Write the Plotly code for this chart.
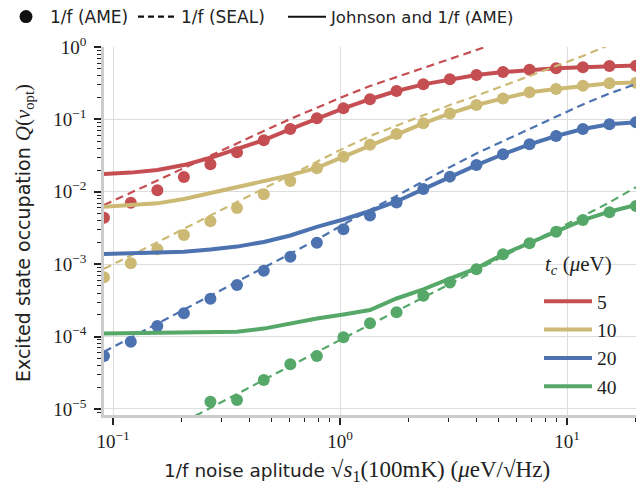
import plotly.graph_objects as go

# ---- data ----
x_noise = [0.0912, 0.1197, 0.1567, 0.2051, 0.2685, 0.3516, 0.4613, 0.6039, 0.7907, 1.035,
           1.355, 1.774, 2.328, 3.048, 3.990, 5.224, 6.839, 8.954, 11.75, 15.38, 20.14]

tc_labels = ["5", "10", "20", "40"]
colors = ["#C44E52", "#CCB974", "#4C72B0", "#55A868"]

# 1/f (AME) dots
ame_5 = [0.00439, 0.00708, 0.0105, 0.0160, 0.0240, 0.0352, 0.0514, 0.0736, 0.1035, 0.142,
         0.190, 0.247, 0.305, 0.358, 0.410, 0.452, 0.486, 0.507, 0.525, 0.547, 0.550]
ame_10 = [6.59e-4, 1.03e-3, 1.61e-3, 2.53e-3, 3.93e-3, 5.97e-3, 9.23e-3, 0.0141, 0.0211, 0.0305,
          0.0448, 0.0628, 0.0883, 0.121, 0.158, 0.195, 0.237, 0.263, 0.292, 0.316, 0.321]
ame_20 = [5.40e-5, 8.51e-5, 1.40e-4, 2.10e-4, 3.33e-4, 5.16e-4, 8.13e-4, 1.27e-3, 1.98e-3, 3.03e-3,
          4.71e-3, 7.11e-3, 0.0109, 0.0162, 0.0234, 0.0330, 0.0453, 0.0590, 0.0736, 0.0855, 0.0912]
ame_40 = [None, None, None, None, 1.26e-5, 1.33e-5, 2.52e-5, 4.14e-5, 5.40e-5, 9.77e-5,
          1.53e-4, 2.17e-4, 3.67e-4, 5.57e-4, 8.51e-4, 1.37e-3, 1.95e-3, 2.81e-3, 4.07e-3, 5.21e-3, 6.37e-3]

# 1/f (SEAL) dashed
seal_5 = [6.58e-3, 9.62e-3, 0.0143, 0.0213, 0.0317, 0.0472, 0.0692, 0.1014, 0.146, 0.207,
          0.289, 0.385, 0.513, 0.682, 0.910, 1.21, None, None, None, None, None]
seal_10 = [8.63e-4, 1.31e-3, 2.01e-3, 3.08e-3, 4.72e-3, 7.23e-3, 0.0111, 0.0169, 0.0259, 0.0398,
           0.0590, 0.0824, 0.115, 0.158, 0.212, 0.294, 0.398, 0.547, 0.752, 1.07, None]
seal_20 = [6.18e-5, 9.66e-5, 1.51e-4, 2.36e-4, 3.67e-4, 5.73e-4, 8.95e-4, 1.40e-3, 2.18e-3, 3.55e-3,
           5.62e-3, 8.91e-3, 0.0138, 0.0219, 0.0339, 0.0501, 0.0748, 0.111, 0.161, 0.228, 0.308]
seal_40 = [None, None, None, 6.64e-6, 1.04e-5, 1.61e-5, 2.52e-5, 3.93e-5, 6.12e-5, 9.48e-5,
           1.45e-4, 2.21e-4, 3.47e-4, 5.33e-4, 8.32e-4, 1.28e-3, 1.96e-3, 3.01e-3, 4.63e-3, 7.11e-3, 0.0116]

# Johnson and 1/f (AME) solid
jn_5 = [0.0176, 0.0184, 0.0200, 0.0234, 0.0295, 0.0389, 0.0519, 0.0733, 0.1035, 0.142,
        0.190, 0.247, 0.305, 0.358, 0.410, 0.452, 0.486, 0.507, 0.525, 0.547, 0.556]
jn_10 = [6.22e-3, 6.46e-3, 6.92e-3, 7.94e-3, 9.55e-3, 0.0115, 0.0141, 0.0170, 0.0214, 0.0305,
         0.0448, 0.0628, 0.0883, 0.121, 0.158, 0.195, 0.237, 0.263, 0.292, 0.316, 0.323]
jn_20 = [1.38e-3, 1.41e-3, 1.43e-3, 1.49e-3, 1.60e-3, 1.75e-3, 2.03e-3, 2.49e-3, 3.27e-3, 4.14e-3,
         5.43e-3, 7.35e-3, 0.0109, 0.0162, 0.0234, 0.0330, 0.0453, 0.0590, 0.0736, 0.0855, 0.0915]
jn_40 = [1.10e-4, 1.11e-4, 1.11e-4, 1.12e-4, 1.14e-4, 1.17e-4, 1.29e-4, 1.52e-4, 1.78e-4, 2.02e-4,
         2.33e-4, 3.36e-4, 4.48e-4, 6.34e-4, 8.77e-4, 1.37e-3, 1.96e-3, 2.88e-3, 4.07e-3, 5.31e-3, 6.58e-3]

x_tickvals = [0.1, 1, 10]
x_ticktext = ["10<sup>−1</sup>", "10<sup>0</sup>", "10<sup>1</sup>"]
y_tickvals = [1e-5, 1e-4, 1e-3, 1e-2, 1e-1, 1]
y_ticktext = ["10<sup>−5</sup>", "10<sup>−4</sup>", "10<sup>−3</sup>", "10<sup>−2</sup>", "10<sup>−1</sup>", "10<sup>0</sup>"]

x_title = ("1/f noise aplitude <span style='font-family:Liberation Serif;font-size:23px'>"
           "√<i>s</i><sub>1</sub>(100mK) (<i>μ</i>eV/√Hz)</span>")
y_title = ("Excited state occupation <span style='font-family:Liberation Serif;font-size:21px'>"
           "<i>Q</i>(<i>v</i><sub>opt</sub>)</span>")
tc_title = "<i>t<sub>c</sub></i> (<i>μ</i>eV)"

ame = [ame_5, ame_10, ame_20, ame_40]
seal = [seal_5, seal_10, seal_20, seal_40]
jn = [jn_5, jn_10, jn_20, jn_40]

SANS = "DejaVu Sans"
SERIF = "Liberation Serif"
INK = "#222222"

fig = go.Figure()
for i in range(4):
    c = colors[i]
    fig.add_trace(go.Scatter(x=x_noise, y=ame[i], mode="markers",
                             marker=dict(color=c, size=12, line=dict(width=0)),
                             showlegend=False))
    fig.add_trace(go.Scatter(x=x_noise, y=seal[i], mode="lines",
                             line=dict(color=c, width=2.2, dash="8px,5px"),
                             showlegend=False))
    fig.add_trace(go.Scatter(x=x_noise, y=jn[i], mode="lines",
                             line=dict(color=c, width=4),
                             name="<span style='font-family:Liberation Serif'>" + tc_labels[i] + "</span>",
                             legend="legend2"))

# style legend entries (black), one legend each for exact placement
fig.add_trace(go.Scatter(x=[None], y=[None], mode="markers", name="1/f (AME)",
                         marker=dict(color="#111111", size=13), legend="legend"))
fig.add_trace(go.Scatter(x=[None], y=[None], mode="lines", name="1/f (SEAL)",
                         line=dict(color="#111111", width=2.2, dash="6px,4px"), legend="legend3"))
fig.add_trace(go.Scatter(x=[None], y=[None], mode="lines", name="Johnson and 1/f (AME)",
                         line=dict(color="#111111", width=2.2), legend="legend4"))

axis_common = dict(
    showline=True, linecolor="#cccccc", linewidth=2.5,
    showgrid=True, gridcolor="#dddddd", gridwidth=1.3,
    ticks="outside", ticklen=7, tickwidth=1.6, tickcolor=INK,
    zeroline=False, automargin=False,
    tickfont=dict(family=SERIF, size=19, color=INK),
)

fig.update_xaxes(type="log", range=[-1.040, 1.304],
                 tickvals=x_tickvals, ticktext=x_ticktext,
                 minor=dict(ticks="outside", ticklen=4, tickwidth=1.4, tickcolor=INK,
                            dtick="D1", showgrid=False),
                 **axis_common)
fig.update_yaxes(type="log", range=[-5.083, 0],
                 tickvals=y_tickvals, ticktext=y_ticktext, ticklabelstandoff=4,
                 minor=dict(ticks="outside", ticklen=4, tickwidth=1.4, tickcolor=INK,
                            dtick="D1", showgrid=False),
                 **axis_common)

# axis titles and legend-2 title as annotations for exact placement
fig.add_annotation(text=x_title, xref="paper", yref="paper",
                   x=(357 - 104) / 532, y=(415 - 471) / 368,
                   xanchor="center", yanchor="middle", showarrow=False,
                   font=dict(family=SANS, size=18.5, color=INK))
fig.add_annotation(text=y_title, xref="paper", yref="paper",
                   x=(24 - 104) / 532, y=(415 - 233) / 368, textangle=-90,
                   xanchor="center", yanchor="middle", showarrow=False,
                   font=dict(family=SANS, size=19, color=INK))
fig.add_annotation(text=tc_title, xref="paper", yref="paper",
                   x=(543 - 104) / 532, y=(415 - 265) / 368,
                   xanchor="left", yanchor="middle", showarrow=False,
                   font=dict(family=SERIF, size=21, color=INK))

leg_common = dict(orientation="h", y=(415 - 17) / 368, xanchor="left", yanchor="middle",
                  bgcolor="rgba(0,0,0,0)", itemwidth=38, borderwidth=0)

fig.update_layout(
    width=636, height=485,
    margin=dict(l=104, r=0, t=47, b=70, autoexpand=False),
    paper_bgcolor="white", plot_bgcolor="white",
    font=dict(family=SANS, color=INK),
    legend=dict(x=(2 - 104) / 532, font=dict(family=SANS, size=17, color=INK), **leg_common),
    legend3=dict(x=(133 - 104) / 532, font=dict(family=SANS, size=17, color=INK), **leg_common),
    legend4=dict(x=(283 - 104) / 532, font=dict(family=SANS, size=16.5, color=INK), **leg_common),
    legend2=dict(x=(539 - 104) / 532, y=(415 - 282) / 368, xanchor="left", yanchor="top",
                 bgcolor="rgba(0,0,0,0)",
                 font=dict(family=SERIF, size=19.5, color=INK),
                 itemwidth=48, tracegroupgap=0),
)

fig.write_html("out.html", post_script="document.body.style.margin='0';",
               config={"displayModeBar": False})
